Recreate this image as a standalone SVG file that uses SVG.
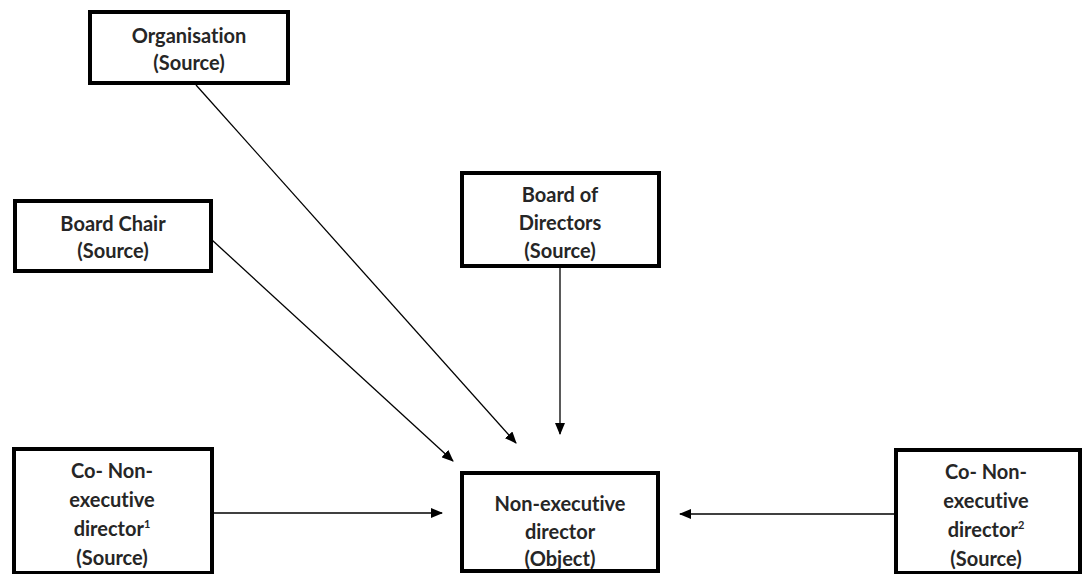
<svg xmlns="http://www.w3.org/2000/svg" width="1083" height="574" viewBox="0 0 1083 574">
<defs>
<style>
.box{fill:#fff;stroke:#000;stroke-width:4}
.t{font-family:Lato,"Open Sans","Liberation Sans",sans-serif;font-size:20px;font-weight:700;fill:#262626;text-anchor:middle;dominant-baseline:central;font-variant-ligatures:none}
.c{stroke:#000;stroke-width:1.3;fill:none;marker-end:url(#ah)}
</style>
<marker id="ah" markerWidth="12" markerHeight="10" refX="11" refY="5" orient="auto" markerUnits="userSpaceOnUse">
<path d="M0,0 L12,5 L0,10 Z" fill="#000"/>
</marker>
</defs>
<rect width="1083" height="574" fill="#fff"/>
<g id="connectors">
<line class="c" x1="196" y1="85" x2="516" y2="443"/>
<line class="c" x1="212" y1="240" x2="453" y2="461"/>
<line class="c" x1="560" y1="267" x2="560" y2="434"/>
<line class="c" x1="212" y1="513" x2="442" y2="513"/>
<line class="c" x1="895" y1="514" x2="680" y2="514"/>
</g>
<g id="organisation">
<rect class="box" x="90" y="12" width="198" height="71"/>
<text class="t" x="189" y="35">Organisation</text>
<text class="t" x="189" y="62">(Source)</text>
</g>
<g id="board-chair">
<rect class="box" x="15" y="201" width="196" height="70"/>
<text class="t" x="113" y="223">Board Chair</text>
<text class="t" x="113" y="250">(Source)</text>
</g>
<g id="board-of-directors">
<rect class="box" x="462" y="173" width="197" height="93"/>
<text class="t" x="560" y="194">Board of</text>
<text class="t" x="560" y="222">Directors</text>
<text class="t" x="560" y="250">(Source)</text>
</g>
<g id="co-ned-1">
<rect class="box" x="14" y="449" width="198" height="124"/>
<text class="t" x="112" y="470">Co- Non-</text>
<text class="t" x="112" y="499">executive</text>
<text class="t" x="112" y="528">director<tspan font-size="11" dy="-5">1</tspan></text>
<text class="t" x="112" y="557">(Source)</text>
</g>
<g id="ned-object">
<rect class="box" x="462" y="473" width="196" height="98"/>
<text class="t" x="560" y="503">Non-executive</text>
<text class="t" x="560" y="531">director</text>
<text class="t" x="560" y="558">(Object)</text>
</g>
<g id="co-ned-2">
<rect class="box" x="896" y="450" width="184" height="123"/>
<text class="t" x="986" y="471">Co- Non-</text>
<text class="t" x="986" y="500">executive</text>
<text class="t" x="986" y="529">director<tspan font-size="11" dy="-5">2</tspan></text>
<text class="t" x="986" y="558">(Source)</text>
</g>
</svg>
